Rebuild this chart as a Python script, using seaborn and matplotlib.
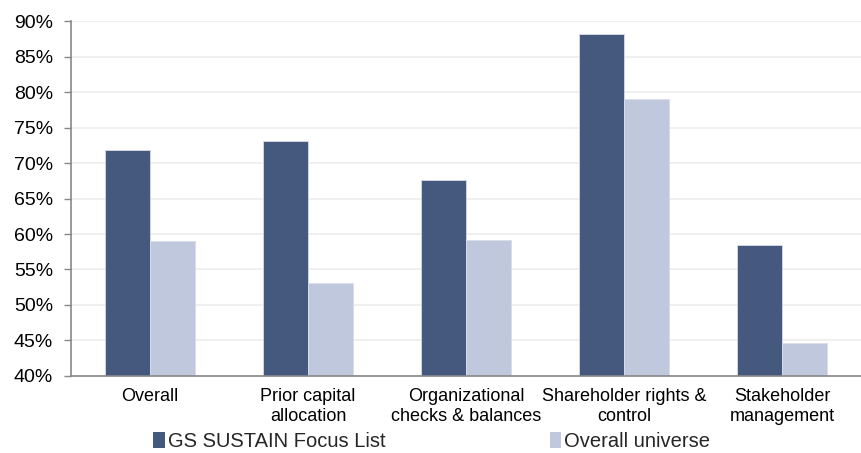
import matplotlib
matplotlib.use("Agg")
import matplotlib.pyplot as plt
import seaborn as sns
import pandas as pd
from matplotlib.ticker import FuncFormatter, FixedLocator
from matplotlib.patches import Patch

categories = ["Overall", "Prior capital\nallocation", "Organizational\nchecks & balances",
              "Shareholder rights &\ncontrol", "Stakeholder\nmanagement"]
focus_list = [71.8, 73.1, 67.6, 88.2, 58.5]
universe = [59.0, 53.1, 59.1, 79.0, 44.6]
series_names = ["GS SUSTAIN Focus List", "Overall universe"]
colors = ["#45597f", "#c0c8dd"]

df = pd.DataFrame({
    "category": categories * 2,
    "value": focus_list + universe,
    "series": [series_names[0]] * len(categories) + [series_names[1]] * len(categories),
})

sns.set_theme(style="white")
plt.rcParams["font.family"] = ["Liberation Sans", "DejaVu Sans"]

fig = plt.figure(figsize=(8.62, 4.53), dpi=100)
ax = fig.add_axes([0.0824, 0.170, 0.9166, 0.7836])

sns.barplot(data=df, x="category", y="value", hue="series", palette=colors,
            width=0.57, gap=0, ax=ax, legend=False, saturation=1,
            edgecolor="#d8dcea", linewidth=0.6)

ax.set_ylim(40, 90)
ax.set_xlim(-0.5, len(categories) - 0.5)
ax.set_yticks(range(40, 91, 5))
ax.yaxis.set_major_formatter(FuncFormatter(lambda v, p: f"{v:.0f}%"))
ax.yaxis.grid(True, color="#ececec", linewidth=1.2)
ax.set_axisbelow(True)

ax.set_xlabel("")
ax.set_ylabel("")
ax.xaxis.set_minor_locator(FixedLocator([i - 0.5 for i in range(len(categories) + 1)]))
ax.tick_params(axis="x", which="major", length=0, labelsize=13, colors="#000000", pad=9)
ax.tick_params(axis="x", which="minor", length=5, width=1, color="#888888", direction="out")
ax.tick_params(axis="y", length=5, width=1, color="#888888", labelsize=14, labelcolor="#000000",
               direction="out", left=True, pad=8)
for lbl in ax.get_xticklabels():
    lbl.set_linespacing(1.22)

for side in ["top", "right"]:
    ax.spines[side].set_visible(False)
for side in ["left", "bottom"]:
    ax.spines[side].set_color("#888888")
    ax.spines[side].set_linewidth(1.2)

handles = [Patch(facecolor=c, edgecolor="none") for c in colors]
fig.legend(handles, series_names, loc="center left", bbox_to_anchor=(0.178, 0.025),
           ncol=2, frameon=False, fontsize=14.5, handlelength=0.55, handleheight=0.8,
           handletextpad=0.15, columnspacing=8.2, borderaxespad=0, borderpad=0)

fig.savefig("out.png", dpi=100)
